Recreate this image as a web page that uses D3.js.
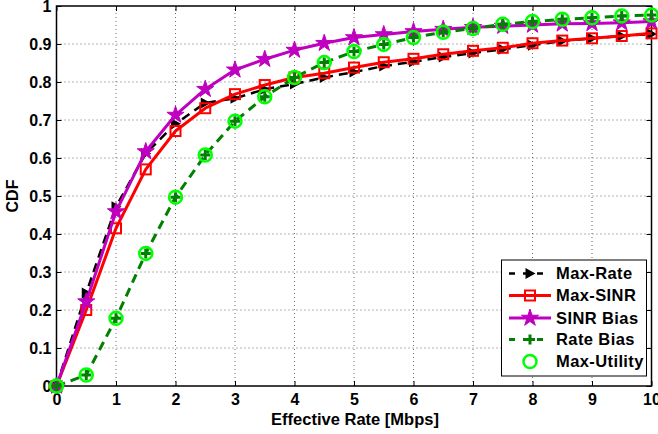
<!DOCTYPE html>
<html><head><meta charset="utf-8">
<script src="https://cdn.jsdelivr.net/npm/d3@7"></script>
<style>body{margin:0;background:#fff}svg{display:block}text{font-family:"Liberation Sans",Arial,sans-serif;font-weight:bold}</style>
</head><body><svg id="c" width="658" height="434"></svg>
<script>
const xs = [0,0.5,1,1.5,2,2.5,3,3.5,4,4.5,5,5.5,6,6.5,7,7.5,8,8.5,9,9.5,10];
const maxRate  = [0,0.245,0.472,0.612,0.69,0.745,0.757,0.781,0.795,0.812,0.826,0.842,0.853,0.866,0.876,0.886,0.897,0.908,0.915,0.921,0.926];
const maxSINR  = [0,0.20,0.415,0.57,0.671,0.731,0.768,0.792,0.812,0.823,0.838,0.852,0.861,0.873,0.882,0.89,0.902,0.909,0.915,0.921,0.928];
const sinrBias = [0,0.222,0.459,0.617,0.713,0.781,0.832,0.86,0.884,0.902,0.917,0.925,0.933,0.939,0.944,0.947,0.95,0.953,0.954,0.956,0.959];
const rateBias = [0,0.029,0.178,0.349,0.497,0.608,0.697,0.761,0.812,0.851,0.88,0.899,0.917,0.931,0.941,0.952,0.959,0.965,0.969,0.974,0.976];
const maxUtil  = [0,0.029,0.178,0.349,0.497,0.608,0.697,0.761,0.812,0.851,0.88,0.899,0.917,0.931,0.941,0.952,0.959,0.965,0.969,0.974,0.976];
const xTicks = [0,1,2,3,4,5,6,7,8,9,10];
const yTicks = [0,0.1,0.2,0.3,0.4,0.5,0.6,0.7,0.8,0.9,1];
const legendLabels = ["Max-Rate","Max-SINR","SINR Bias","Rate Bias","Max-Utility"];

const svg = d3.select("#c");
const x = d3.scaleLinear([0,10],[56.5,651.5]);
const y = d3.scaleLinear([0,1],[386,6]);
const FS = 16;

// grid
const g = svg.append("g");
g.selectAll(".gx").data(xTicks.slice(1,-1)).join("line")
 .attr("x1",d=>x(d)).attr("x2",d=>x(d)).attr("y1",y(0)).attr("y2",y(1))
 .attr("stroke","#444").attr("stroke-width",0.8).attr("stroke-dasharray","1,3");
g.selectAll(".gy").data(yTicks.slice(1,-1)).join("line")
 .attr("y1",d=>y(d)).attr("y2",d=>y(d)).attr("x1",x(0)).attr("x2",x(10))
 .attr("stroke","#444").attr("stroke-width",0.8).attr("stroke-dasharray","1,3");

// axes
const fmtY = d=> d===0?"0":(d===1?"1":d3.format(".1f")(d));
const ax = (sel)=>{sel.select(".domain").remove(); sel.selectAll(".tick line").attr("stroke","#000").attr("stroke-width",1);
  sel.selectAll("text").attr("font-size",FS).attr("fill","#000").style("font-family","'Liberation Sans',Arial,sans-serif").style("font-weight","bold");};
svg.append("g").attr("transform",`translate(0,${y(0)})`).call(d3.axisBottom(x).tickValues(xTicks).tickSizeInner(-5).tickSizeOuter(0).tickPadding(8).tickFormat(d3.format("d"))).call(ax);
svg.append("g").attr("transform",`translate(0,${y(1)})`).call(d3.axisTop(x).tickValues(xTicks).tickSizeInner(-5).tickSizeOuter(0).tickFormat("")).call(ax);
svg.append("g").attr("transform",`translate(${x(0)},0)`).call(d3.axisLeft(y).tickValues(yTicks).tickSizeInner(-5).tickSizeOuter(0).tickPadding(5).tickFormat(fmtY)).call(ax);
svg.append("g").attr("transform",`translate(${x(10)},0)`).call(d3.axisRight(y).tickValues(yTicks).tickSizeInner(-5).tickSizeOuter(0).tickFormat("")).call(ax);
svg.append("rect").attr("x",x(0)).attr("y",y(1)).attr("width",x(10)-x(0)).attr("height",y(0)-y(1))
 .attr("fill","none").attr("stroke","#000").attr("stroke-width",1.5);

// markers
function starPath(R){const r=R*0.382;let p="";for(let i=0;i<10;i++){const a=-Math.PI/2+i*Math.PI/5;const rr=i%2?r:R;p+=(i?"L":"M")+(rr*Math.cos(a)).toFixed(2)+","+(rr*Math.sin(a)).toFixed(2);}return p+"Z";}
const mk = {
  tri: s=>s.append("path").attr("d","M-4.5,-5.5L5.5,0L-4.5,5.5Z").attr("fill","#000"),
  sq: s=>s.append("rect").attr("x",-5).attr("y",-5).attr("width",10).attr("height",10).attr("fill","none").attr("stroke","#ff0000").attr("stroke-width",2),
  star: s=>s.append("path").attr("d",starPath(9)).attr("fill","#bf00bf").attr("stroke","#bf00bf").attr("stroke-width",1),
  plus: s=>s.append("path").attr("d","M-5,0H5M0,-5V5").attr("stroke","#007f00").attr("stroke-width",3),
  circ: s=>s.append("circle").attr("r",6.5).attr("fill","none").attr("stroke","#00ff00").attr("stroke-width",2.5)
};
const series = [
  {vals:maxRate, color:"#000", w:2.5, dash:"9,6", m:"tri", line:true},
  {vals:maxSINR, color:"#ff0000", w:3, dash:null, m:"sq", line:true},
  {vals:sinrBias, color:"#bf00bf", w:3, dash:null, m:"star", line:true},
  {vals:rateBias, color:"#007f00", w:3, dash:"9,6", m:"plus", line:true},
  {vals:maxUtil, color:"#00ff00", w:2.5, dash:null, m:"circ", line:false}
];
const line = d3.line().x((d,i)=>x(xs[i])).y(d=>y(d));
series.forEach(s=>{
  const gg = svg.append("g");
  if(s.line) gg.append("path").attr("d",line(s.vals)).attr("fill","none").attr("stroke",s.color).attr("stroke-width",s.w).attr("stroke-dasharray",s.dash).attr("stroke-linejoin","round");
  s.vals.forEach((v,i)=>{ mk[s.m](gg.append("g").attr("transform",`translate(${x(xs[i])},${y(v)})`)); });
});

// legend
const lg = svg.append("g");
lg.append("rect").attr("x",501.5).attr("y",260).attr("width",145).attr("height",116).attr("fill","#fff").attr("stroke","#000").attr("stroke-width",1);
const rowsY = [273.5,295.5,318,339.5,361.5];
series.forEach((s,i)=>{
  const yy = rowsY[i];
  if(s.line) lg.append("line").attr("x1",509).attr("x2",551).attr("y1",yy).attr("y2",yy).attr("stroke",s.color).attr("stroke-width",s.w).attr("stroke-dasharray",s.dash?"6,8":null);
  mk[s.m](lg.append("g").attr("transform",`translate(530,${yy})`));
  lg.append("text").attr("x",556).attr("y",yy+5.8).attr("font-size",16.5).attr("letter-spacing",0.4).text(legendLabels[i]);
});

// axis labels
svg.append("text").attr("x",355).attr("y",425).attr("text-anchor","middle").attr("font-size",16.5).text("Effective Rate [Mbps]");
svg.append("text").attr("transform",`translate(18,${y(0.5)}) rotate(-90)`).attr("text-anchor","middle").attr("font-size",FS).text("CDF");
</script></body></html>
